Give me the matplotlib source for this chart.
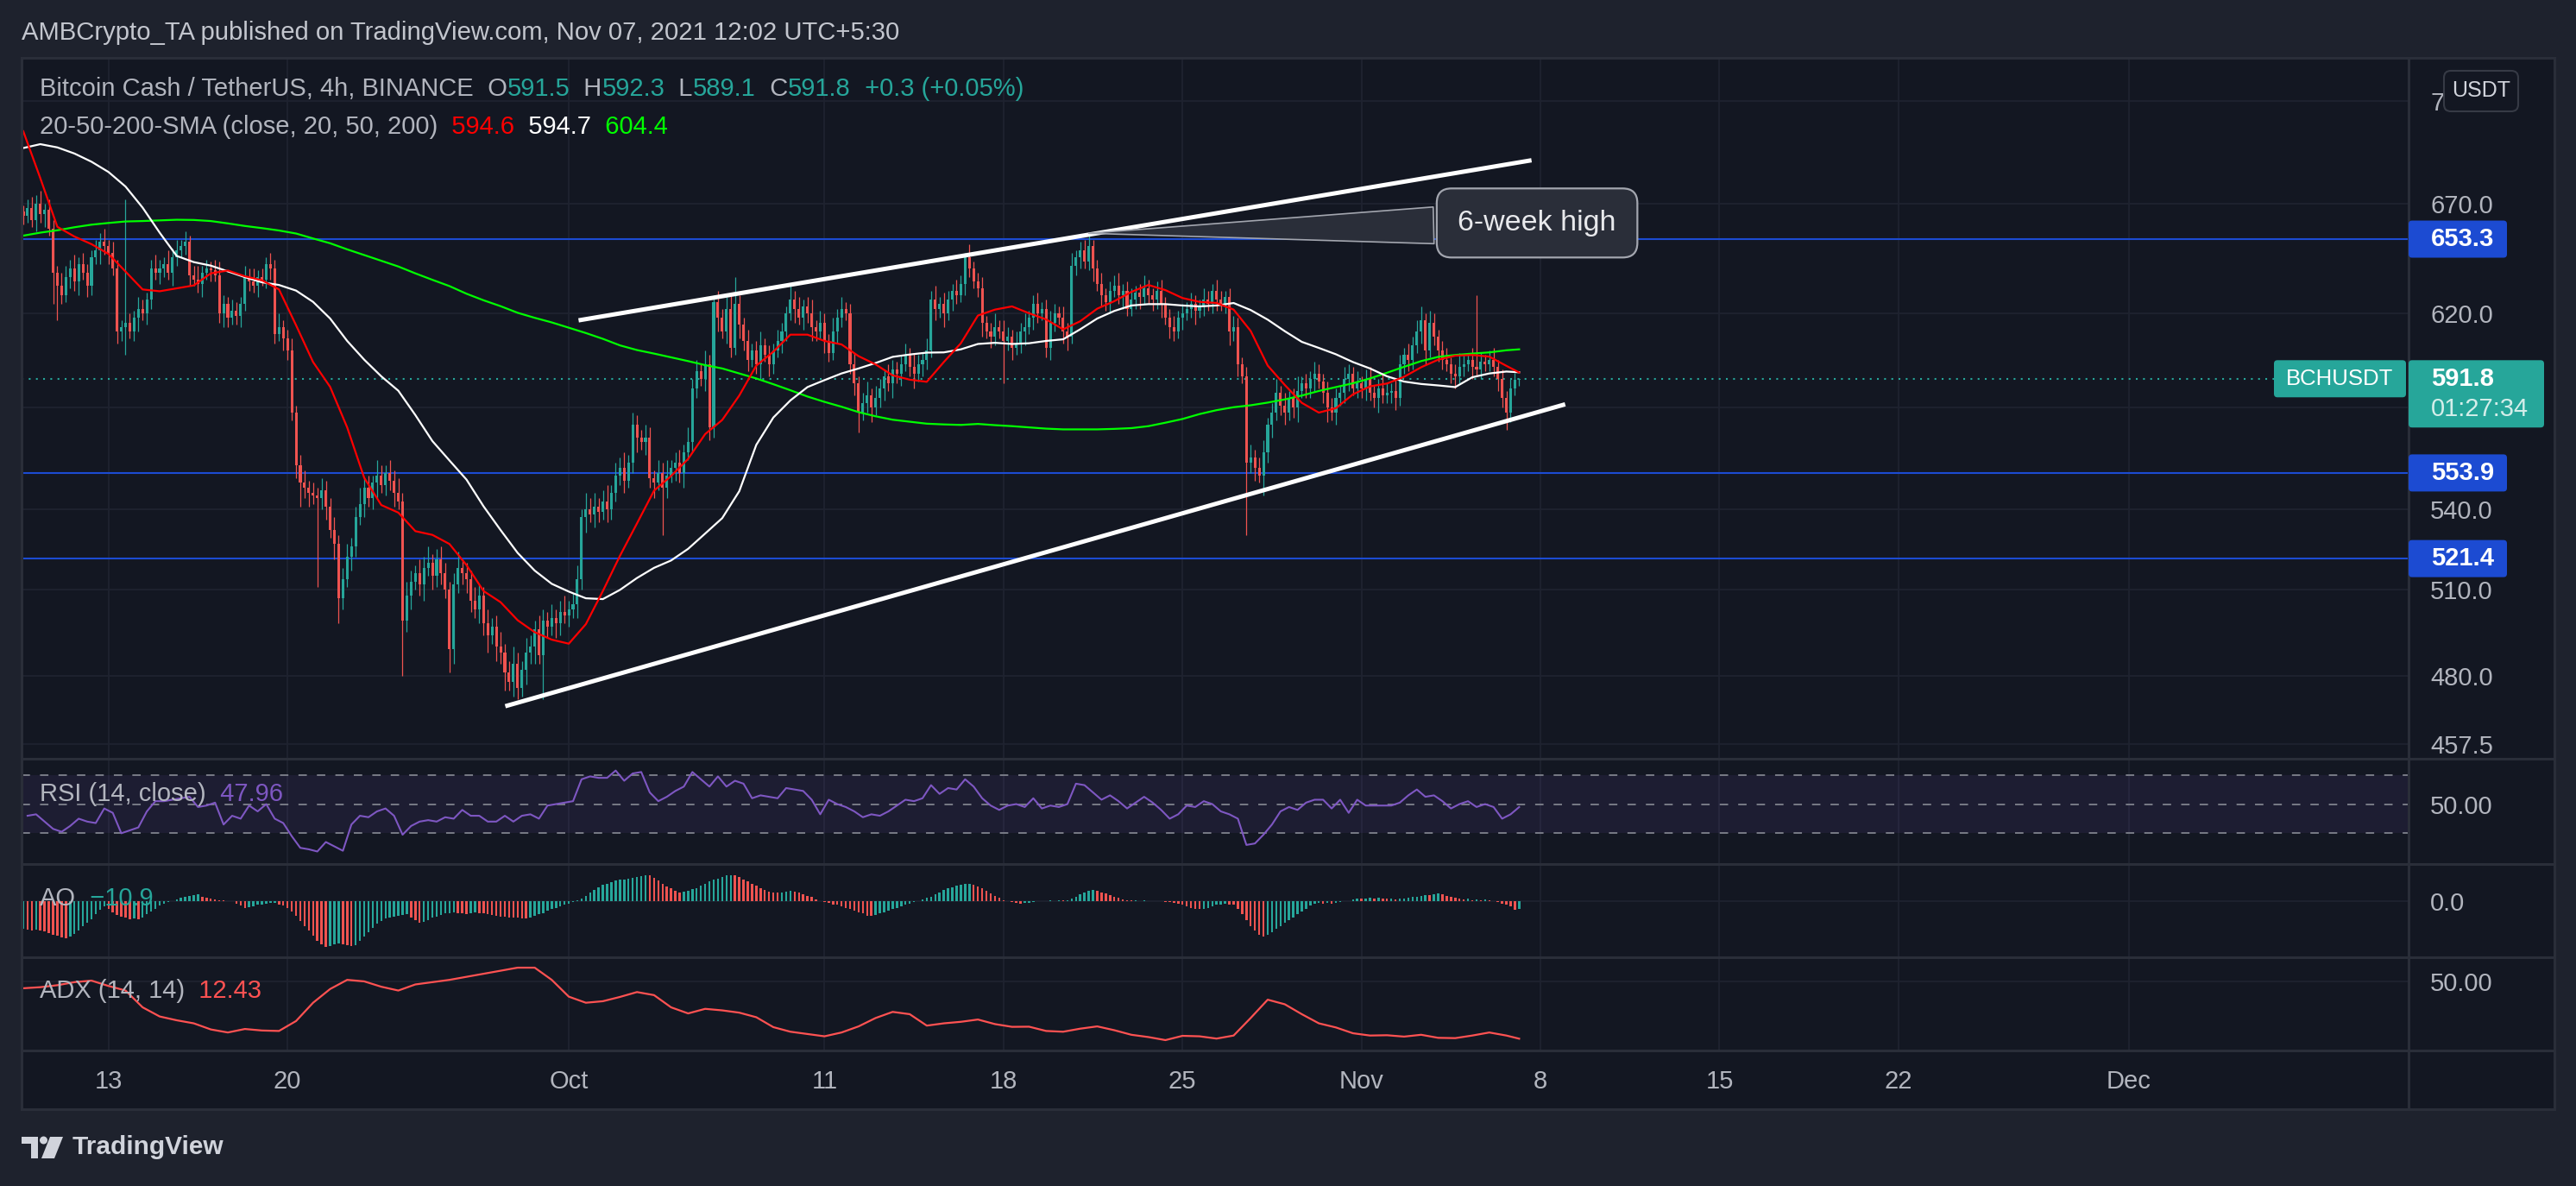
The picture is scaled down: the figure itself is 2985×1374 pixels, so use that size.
import numpy as np
import pandas as pd
import matplotlib
matplotlib.use("Agg")
import matplotlib.pyplot as plt
from matplotlib.patches import FancyBboxPatch, Rectangle, Circle, Polygon
from matplotlib.lines import Line2D
from matplotlib.transforms import IdentityTransform
from matplotlib.ticker import FixedLocator, FixedFormatter, NullLocator

plt.rcParams["font.family"] = ["Liberation Sans", "DejaVu Sans"]

# ---------------- data (BCH/USDT, 4h, Binance) ----------------
start = pd.Timestamp("2021-09-09 16:00")   # first candle shown
first_open = 666

# closes, one day (6 candles) per line
closes = [
    664, 668,
    662, 670, 665, 667, 658, 638,
    632, 628, 636, 640, 634, 642,
    638, 632, 645, 648, 652, 650,
    647, 640, 612, 614, 616, 612,
    618, 622, 620, 626, 640, 638,
    640, 642, 638, 645, 648, 650,
    652, 637, 635, 633, 638, 640,
    639, 637, 620, 624, 618, 621,
    619, 624, 636, 634, 632, 636,
    635, 642, 640, 611, 614, 609,
    604, 578, 557, 550, 548, 546,
    545, 544, 547, 541, 532, 527,
    507, 514, 522, 526, 537, 542,
    548, 544, 550, 553, 549, 554,
    551, 546, 543, 499, 508, 513,
    516, 512, 518, 520, 515, 521,
    516, 510, 489, 512, 518, 516,
    514, 506, 503, 508, 498, 494,
    497, 490, 488, 481, 478, 484,
    476, 482, 488, 490, 496, 487,
    499, 497, 500, 498, 502, 501,
    503, 505, 514, 537, 540, 538,
    541, 539, 543, 540, 546, 553,
    556, 551, 558, 573, 568, 566,
    568, 552, 550, 554, 548, 553,
    556, 558, 554, 562, 566, 588,
    595, 592, 598, 572, 625, 618,
    612, 622, 605, 624, 615, 608,
    600, 604, 598, 606, 602, 598,
    604, 608, 612, 620, 626, 622,
    618, 623, 620, 614, 612, 616,
    608, 603, 612, 618, 622, 620,
    598, 590, 578, 582, 585, 580,
    584, 588, 593, 590, 596, 594,
    598, 602, 597, 594, 598, 600,
    604, 626, 622, 624, 620, 626,
    630, 628, 633, 645, 640, 634,
    631, 616, 612, 610, 614, 612,
    608, 610, 605, 607, 612, 614,
    618, 624, 620, 622, 605, 616,
    620, 618, 612, 610, 641, 645,
    648, 643, 650, 640, 633, 628,
    625, 630, 632, 628, 630, 622,
    626, 629, 627, 631, 628, 626,
    630, 624, 618, 614, 612, 618,
    620, 622, 624, 621, 623, 626,
    624, 630, 626, 624, 627, 612,
    614, 598, 593, 558, 560, 556,
    553, 562, 573, 578, 586, 581,
    578, 584, 580, 587, 590, 588,
    592, 594, 591, 586, 580, 578,
    584, 586, 592, 594, 588, 590,
    588, 592, 586, 584, 588, 585,
    586, 587, 584, 598, 602, 600,
    606, 612, 617, 604, 616, 610,
    604, 600, 598, 594, 593, 597,
    598, 600, 597, 596, 599, 598,
    600, 597, 592, 584, 578, 588,
    591.5, 591.8,
]

upper_wick = [
    3, 4,
    5, 4, 6, 3, 5, 4,
    3, 6, 5, 4, 6, 3,
    5, 4, 3, 5, 4, 6,
    3, 5, 4, 3, 56, 4,
    3, 5, 4, 3, 4, 6,
    4, 3, 6, 4, 5, 3,
    5, 3, 4, 6, 3, 4,
    3, 5, 6, 4, 3, 5,
    4, 3, 5, 4, 6, 3,
    4, 3, 5, 4, 6, 3,
    4, 5, 3, 4, 5, 3,
    4, 3, 5, 4, 3, 5,
    3, 4, 5, 3, 4, 6,
    4, 5, 3, 6, 4, 3,
    5, 4, 6, 3, 5, 4,
    3, 5, 4, 6, 3, 4,
    5, 4, 3, 4, 6, 3,
    4, 3, 5, 4, 3, 5,
    3, 4, 5, 3, 4, 6,
    4, 3, 5, 4, 3, 5,
    4, 3, 5, 3, 4, 6,
    3, 4, 5, 3, 6, 4,
    5, 3, 4, 6, 3, 5,
    4, 6, 3, 5, 4, 3,
    5, 4, 3, 5, 4, 6,
    3, 4, 5, 3, 6, 4,
    5, 3, 6, 4, 3, 5,
    4, 5, 6, 12, 4, 3,
    5, 3, 4, 6, 3, 4,
    3, 5, 4, 3, 6, 4,
    5, 3, 4, 6, 3, 5,
    4, 3, 6, 4, 5, 3,
    4, 5, 3, 4, 6, 3,
    5, 4, 3, 5, 4, 3,
    4, 5, 3, 6, 4, 3,
    5, 4, 6, 3, 5, 4,
    3, 5, 4, 2, 6, 3,
    4, 5, 3, 4, 6, 3,
    5, 4, 3, 5, 4, 6,
    3, 4, 5, 3, 4, 5,
    4, 3, 5, 4, 6, 3,
    4, 5, 6, 3, 4, 5,
    3, 4, 5, 6, 3, 4,
    5, 3, 4, 6, 4, 3,
    4, 5, 3, 4, 5, 3,
    4, 3, 5, 4, 3, 5,
    4, 3, 5, 4, 3, 4,
    5, 4, 3, 4, 5, 3,
    4, 5, 3, 4, 6, 3,
    5, 3, 4, 6, 3, 4,
    3, 5, 4, 3, 5, 4,
    4, 3, 5, 4, 3, 5,
    3, 4, 5, 3, 4, 6,
    4, 3, 5, 4, 3, 5,
    4, 5, 6, 3, 5, 4,
    3, 4, 5, 3, 4, 6,
    4, 3, 5, 31, 4, 3,
    4, 5, 3, 4, 3, 4,
    3, 0.5,
]

lower_wick = [
    4, 3,
    3, 5, 4, 6, 3, 14,
    15, 4, 3, 5, 4, 6,
    3, 5, 4, 3, 6, 4,
    5, 3, 5, 4, 12, 3,
    4, 6, 3, 5, 4, 3,
    5, 4, 3, 6, 4, 3,
    4, 5, 3, 4, 6, 3,
    5, 3, 4, 6, 4, 3,
    4, 5, 3, 4, 3, 5,
    3, 4, 5, 4, 3, 5,
    4, 3, 5, 9, 4, 5,
    3, 33, 4, 5, 3, 6,
    9, 4, 3, 5, 4, 3,
    5, 3, 4, 6, 3, 4,
    4, 5, 3, 19, 4, 5,
    3, 4, 6, 3, 5, 4,
    4, 3, 8, 5, 3, 4,
    5, 4, 3, 5, 4, 6,
    3, 5, 4, 6, 3, 5,
    4, 3, 5, 4, 6, 3,
    15, 4, 3, 5, 4, 3,
    4, 3, 5, 4, 6, 3,
    5, 4, 3, 5, 4, 3,
    4, 5, 3, 4, 6, 3,
    5, 4, 6, 3, 18, 4,
    3, 5, 4, 6, 3, 4,
    4, 3, 5, 5, 4, 6,
    3, 5, 4, 3, 6, 4,
    5, 3, 4, 6, 3, 5,
    4, 3, 5, 4, 3, 6,
    3, 5, 4, 6, 4, 3,
    5, 4, 3, 5, 4, 3,
    4, 5, 8, 3, 4, 6,
    3, 4, 5, 3, 6, 4,
    5, 3, 4, 6, 3, 5,
    4, 3, 5, 4, 6, 3,
    5, 4, 3, 5, 4, 3,
    4, 6, 3, 5, 4, 3,
    18, 4, 5, 3, 4, 6,
    3, 5, 4, 3, 4, 5,
    4, 3, 5, 6, 3, 4,
    5, 3, 4, 6, 3, 5,
    4, 5, 3, 4, 6, 3,
    3, 4, 5, 3, 4, 5,
    4, 6, 3, 5, 4, 3,
    5, 3, 4, 6, 3, 4,
    3, 4, 5, 3, 4, 6,
    4, 5, 3, 28, 4, 5,
    3, 8, 4, 5, 3, 4,
    5, 3, 4, 6, 3, 4,
    4, 5, 3, 4, 6, 3,
    5, 3, 4, 5, 3, 4,
    4, 5, 3, 4, 6, 3,
    3, 4, 5, 3, 4, 5,
    4, 3, 5, 6, 3, 4,
    5, 4, 3, 4, 5, 3,
    4, 3, 5, 3, 4, 3,
    3, 4, 5, 4, 7, 4,
    3, 2.4,
]

# moving averages sampled every 4th candle (plus the last one)
sample_idx = list(range(0, 349, 4)) + [351]
sma20 = [705, 682, 659, 654.5, 651, 646.5, 638.5, 630.5, 629.7, 631, 632.3, 637.7,
         639, 636.4, 634.6, 630.5, 614.8, 599, 588.6, 572, 552, 541.5, 538.6, 531.6,
         530.2, 526.8, 519, 509.6, 505.6, 499.2, 495, 492.4, 491, 497.8, 509.6, 522.4,
         534.5, 547, 552.7, 559.4, 569.3, 575, 585, 597.5, 603.4, 610.7, 610.7, 608,
         606.5, 601.5, 598, 593.4, 591.6, 590.7, 599, 607, 619, 621.6, 623, 620,
         617.3, 613, 616.5, 622, 625.3, 629.4, 632.5, 630.2, 626.7, 625, 624.5, 621.6,
         612.3, 597.5, 589.4, 582, 578, 579.8, 585.5, 588.8, 590, 592.8, 596.8, 600,
         601.7, 602, 601.3, 597.4, 594.6]
sma50 = [696.7, 698.6, 697, 694, 690, 685, 678, 668, 656.3, 645.6, 642.8, 641.2,
         638.6, 636, 633.7, 632.5, 630, 625, 617.7, 608, 600, 593, 587, 577,
         566.5, 558.8, 551.3, 541, 532, 523.5, 517, 512.2, 509.4, 507, 506.7, 510,
         514.3, 518, 520.7, 525, 530.7, 536.5, 546.8, 565, 576, 583, 588.5, 591.4,
         594.2, 596.3, 598.6, 601.2, 602.2, 603, 603.1, 604.4, 606.7, 607.2, 606.7, 607,
         608, 608.7, 613, 617.7, 621, 623.4, 624, 624, 623.4, 623, 623.4, 624.5,
         621.4, 617.2, 612.2, 607.6, 605, 602.3, 599, 596.3, 593, 590.8, 589.8, 589.2,
         588.5, 592.6, 594.2, 595, 594.7]
sma200 = [654.9, 656.3, 657.4, 658.8, 660, 660.8, 661.5, 661.7, 662, 662.3, 662.2, 661.7,
          660.6, 659.4, 658.4, 657.3, 655.9, 653.6, 651.4, 648.6, 646, 643.4, 640.8, 637.7,
          634.8, 632, 628.6, 625.7, 623.1, 620.2, 618, 616, 613.7, 611.4, 608.9, 606.1,
          604.1, 602.6, 601, 599.4, 597.7, 596.3, 594.2, 592.1, 589.7, 587.2, 584.6, 582.4,
          580.4, 578.2, 576.5, 575.1, 574.3, 573.5, 573.2, 573, 573.4, 572.9, 572.5, 572,
          571.5, 571.2, 571.2, 571.2, 571.4, 571.7, 572.5, 573.9, 575.4, 577.4, 579, 580.2,
          581, 582.1, 583.4, 585, 586.9, 588.5, 590.1, 592.1, 594.5, 597, 599.4, 601.2,
          602, 602.6, 603.1, 604, 604.4]

# RSI(14) on every 2nd candle, from candle 1
rsi = [42, 43, 38, 33, 31, 35,  40, 38, 37, 47, 44, 30,
       32, 34, 45, 52, 52, 53,  54, 55, 48, 49, 51, 36,
       42, 40, 49, 45, 50, 40,  37, 28, 20, 19, 17.5, 24,
       21, 18, 36, 42, 41, 45,  47, 42, 29, 35, 38, 39,
       38, 41, 40, 46, 42, 42,  38, 38, 42, 38, 42, 43,
       40, 49, 50, 51, 52, 67,  69, 68, 68, 73, 66, 71,
       72, 58, 52, 55, 59, 62,  72, 67, 62, 69, 62, 66,
       64, 54, 56, 55, 54, 61,  60, 59, 53, 43, 53, 50,
       48, 45, 41, 43, 42, 45,  49, 53, 52, 54, 63, 57,
       61, 60, 67, 62, 54, 49,  46, 49, 50, 48, 54, 47,
       49, 48, 50, 64, 63, 58,  53, 56, 52, 47, 51, 55,
       51, 46, 40, 43, 49, 48,  52, 50, 45, 43, 40, 22,
       23, 29, 36, 45, 48, 46,  51, 53, 53, 47, 53, 44,
       53, 49, 49, 49, 49, 51,  56, 60, 55, 56, 52, 47,
       50, 52, 48, 50, 48, 40,  43, 47.96]

# Awesome Oscillator, one value per candle
ao = [
    -38, -39,
    -40, -39, -40, -42, -44, -46,
    -48, -50, -51, -49, -45, -40,
    -35, -30, -25, -18, -12, -7,
    -10, -15, -19, -21, -23, -25,
    -24, -25, -22, -18, -14, -10,
    -6, -3, -1, 1, 3, 5,
    6, 8, 9, 9.5, 7, 5,
    4, 3, 2, 1.5, 1, 0.5,
    -3, -6, -9, -8, -7, -5,
    -4, -3, -2.5, -2, -4, -6,
    -9, -14, -20, -27, -34, -41,
    -48, -55, -60, -64, -62, -60,
    -59, -60, -61, -62, -61, -55,
    -49, -43, -37, -31, -27, -24,
    -22, -21, -20, -19, -18, -22,
    -26, -30, -28, -26, -23, -21,
    -19, -17, -16, -15, -16, -17,
    -18, -16, -15, -16, -17, -18,
    -19, -20, -21, -21.5, -22, -22.5,
    -23, -23.5, -24, -22, -20, -18,
    -16, -13, -11, -9, -7, -5,
    -3, -1, 2, 4, 8, 12,
    16, 20, 23, 25, 27, 29,
    30, 31, 32, 33, 34, 35,
    37, 36, 33, 29, 25, 21,
    18, 15, 13, 14, 15, 17,
    19, 22, 25, 28, 30, 32,
    34, 36, 37, 36, 34, 31,
    28, 25, 22, 19, 16, 14,
    13, 12, 13, 14, 15, 14,
    12, 10, 8, 6, 3, 1,
    -1, -2, -4, -5, -7, -9,
    -11, -13, -15, -17, -20, -20.5,
    -19, -17, -15, -13, -11, -9,
    -7, -5, -3, -1, 1, 3,
    5, 7, 10, 13, 16, 18,
    20, 22, 23, 24, 24.5, 23,
    21, 18, 15, 11, 8, 5,
    2, 0, -1, -2, -3, -2,
    -1.5, -1, 0, 1, 0.5, 1.5,
    1, 2, 1.5, 2, 4, 7,
    10, 13, 15, 16, 15, 13,
    11, 9, 7, 5, 3, 2,
    1.5, 2, 1, 1.5, 1, 0.5,
    1, 0, -0.5, -1, -2, -3,
    -5, -7, -9, -10, -11, -10,
    -9, -7, -5, -4, -3, -4,
    -5, -11, -18, -26, -34, -41,
    -47, -49, -46, -43, -38, -34,
    -30, -26, -22, -18, -14, -10,
    -6, -3, -2, -3, -2, -3,
    -2, -1, 0.5, 1, 3, 4,
    3.5, 4.5, 5, 4.5, 5, 4,
    3.5, 4, 3, 3.5, 4, 5,
    6, 7, 8, 9, 8.5, 10.5,
    11, 10, 8, 6, 5, 4,
    3, 3.5, 2, 2.5, 2, 2.5,
    1.5, 1, -1, -3, -5, -7,
    -11.5, -10.9,
]

# ADX(14, 14), same sampling as the moving averages
adx = [45.5, 46.2, 47.5, 49.5, 50.5, 47, 44, 33, 27, 24.5, 22.5, 18.5,
       16.5, 18.8, 17.8, 17.5, 24, 36, 45, 51, 50, 46.5, 44, 48,
       49.5, 51, 53, 55, 57, 59, 59, 51, 40, 36, 37, 39.8,
       43, 41, 33, 29, 32, 31, 29.5, 26.5, 20, 17, 15.5, 14,
       16.5, 20.5, 26, 30, 28.5, 21, 22.5, 23.5, 25, 22, 20.2, 20.3,
       17.5, 17, 19, 20.5, 18, 15, 13.5, 11.5, 14.3, 14, 12.5, 14.5,
       26, 38, 35, 28.5, 22.5, 19.8, 16, 14.5, 14.7, 13.8, 15, 13,
       12.8, 14.5, 16.5, 14.5, 12.43]

levels = [653.3, 553.9, 521.4]
channel_upper = [(130.3, 616.9), (353.9, 690.7)]
channel_lower = [(113.1, 469.8), (361.8, 581.4)]
six_week_high = (250, 656.0)
callout_at = (355.2, 660.8)

price_ticks = [457.5, 480, 510, 540, 580, 620, 670, 720]
price_labels = ["457.5", "480.0", "510.0", "540.0", "", "620.0", "670.0", "720.0"]  # 580 sits under the last-price tag
tick_dates = ["2021-09-13", "2021-09-20", "2021-10-01", "2021-10-11", "2021-10-18",
              "2021-10-25", "2021-11-01", "2021-11-08", "2021-11-15", "2021-11-22",
              "2021-12-01"]
tick_labels = ["13", "20", "Oct", "11", "18", "25", "Nov", "8", "15", "22", "Dec"]

# ---------------- style ----------------
W, H, DPI = 2985, 1374, 100
OUTER = "#1e222d"
PANEL = "#131722"
SEP = "#2a2e39"
GRID = "#1f2330"
TXT = "#b2b5be"
UP, DOWN = "#26a69a", "#ef5350"
BLUE = "#1c4bd2"
FS = 21
ID = IdentityTransform()

fig = plt.figure(figsize=(W / DPI, H / DPI), dpi=DPI, facecolor=OUTER)


def add_ax(top, bottom):
    ax = fig.add_axes([25 / W, 1 - bottom / H, (2791 - 25) / W, (bottom - top) / H])
    ax.set_facecolor(PANEL)
    for s in ax.spines.values():
        s.set_visible(False)
    return ax


def px_line(x0, y0, x1, y1, color=SEP, lw=2.0, z=5):
    fig.add_artist(Line2D([x0, x1], [H - y0, H - y1], transform=ID, color=color, lw=lw, zorder=z))


def px_box(x0, y0, x1, y1, fc, ec="none", lw=0, r=4, z=6):
    fig.add_artist(FancyBboxPatch((x0, H - y1), x1 - x0, y1 - y0,
                                  boxstyle=f"round,pad=0,rounding_size={r}",
                                  transform=ID, fc=fc, ec=ec, lw=lw, zorder=z))


def px_text(x, y, s, **kw):
    kw.setdefault("zorder", 7)
    kw.setdefault("va", "center")
    fig.text(x, H - y, s, transform=ID, **kw)


def legend_line(ax, x, y, parts, size=FS):
    t = ax.text(x, H - y, parts[0][0], color=parts[0][1], fontsize=size,
                va="center", ha="left", transform=ID, zorder=9)
    for s, c in parts[1:]:
        t = ax.annotate(s, xy=(1, 0), xycoords=t, va="bottom", ha="left",
                        color=c, fontsize=size, annotation_clip=False, zorder=9)


# chart block background
fig.add_artist(Rectangle((25, H - 1285), 2960 - 25, 1285 - 67, transform=ID,
                         fc=PANEL, ec="none", zorder=0))

axp = add_ax(67, 879)
axr = add_ax(879, 1001)
axa = add_ax(1001, 1108.5)
axd = add_ax(1108.5, 1217)

tick_idx = [(pd.Timestamp(d) - start) / pd.Timedelta(hours=4) for d in tick_dates]
for ax in (axp, axr, axa, axd):
    ax.set_xlim(-0.4, 559.7)
    ax.set_xticks(tick_idx)
    ax.set_xticklabels(tick_labels)
    ax.grid(axis="x", color=GRID, lw=1.3)
    ax.set_axisbelow(True)
    ax.tick_params(axis="x", length=0, labelbottom=False)
    ax.yaxis.tick_right()
    ax.tick_params(axis="y", length=0, pad=18, labelsize=FS, labelcolor=TXT)
axd.tick_params(axis="x", labelbottom=True, pad=16, labelsize=FS, labelcolor=TXT)

# ---------------- price panel ----------------
closes = np.array(closes, dtype=float)
n = len(closes)
idx = np.arange(n)
opens = np.r_[first_open, closes[:-1]]
highs = np.maximum(opens, closes) + np.array(upper_wick)
lows = np.minimum(opens, closes) - np.array(lower_wick)
ccol = np.where(closes >= opens, UP, DOWN)
body = closes - opens
body = np.where(np.abs(body) < 0.5, 0.5, body)

axp.set_yscale("log")
axp.set_ylim(452.7, 742.5)
axp.yaxis.set_major_locator(FixedLocator(price_ticks))
axp.yaxis.set_major_formatter(FixedFormatter(price_labels))
axp.yaxis.set_minor_locator(NullLocator())
axp.grid(axis="y", color=GRID, lw=1.3)

for v in levels:
    axp.axhline(v, color=BLUE, lw=1.5, zorder=1)
axp.axhline(closes[-1], color=UP, lw=1.5, ls=(0, (1, 3)), zorder=1)

axp.vlines(idx, lows, highs, colors=ccol, lw=0.9, zorder=2)
axp.bar(idx, body, bottom=opens, width=0.62, color=ccol, lw=0, zorder=2)

axp.plot(sample_idx, sma200, color="#00ff00", lw=1.6, zorder=3)
axp.plot(sample_idx, sma50, color="#ffffff", lw=1.6, zorder=3)
axp.plot(sample_idx, sma20, color="#ff0000", lw=1.6, zorder=3)

for seg in (channel_upper, channel_lower):
    xs, ys = zip(*seg)
    axp.plot(xs, ys, color="white", lw=3.6, solid_capstyle="butt", zorder=4)

axp.annotate("6-week high", xy=six_week_high, xytext=callout_at, textcoords="data",
             ha="center", va="center", color="#e8e9ec", fontsize=24.5,
             bbox=dict(boxstyle="round,pad=0.72,rounding_size=0.5", fc="#2a2e39",
                       ec="#a3a6af", lw=1.6),
             arrowprops=dict(arrowstyle="wedge,tail_width=1.25,shrink_factor=0.5",
                             fc="#2a2e39", ec="#a3a6af", lw=1.2, shrinkB=0),
             zorder=8, annotation_clip=False)

o, h, l, c = opens[-1], highs[-1], lows[-1], closes[-1]
chg = c - o
legend_line(axp, 46, 103, [
    ("Bitcoin Cash / TetherUS, 4h, BINANCE", TXT),
    ("  O", TXT), (f"{o:.1f}", UP), ("  H", TXT), (f"{h:.1f}", UP),
    ("  L", TXT), (f"{l:.1f}", UP), ("  C", TXT), (f"{c:.1f}", UP),
    (f"  {chg:+.1f} ({chg / o * 100:+.2f}%)", UP)])
legend_line(axp, 46, 147, [
    ("20-50-200-SMA (close, 20, 50, 200)", TXT),
    (f"  {sma20[-1]:.1f}", "#ff0000"), (f"  {sma50[-1]:.1f}", "#ffffff"),
    (f"  {sma200[-1]:.1f}", "#00ff00")])

# ---------------- RSI ----------------
rsi_idx = np.arange(1, 2 * len(rsi), 2)
axr.set_ylim(8.9, 81.1)
axr.axhspan(30, 70, color="#7e57c2", alpha=0.1, lw=0)
for v in (70, 50, 30):
    axr.axhline(v, color="#787b86", lw=1.4, ls=(0, (5, 6)))
axr.plot(rsi_idx, rsi, color="#7e57c2", lw=1.5)
axr.set_yticks([50])
axr.set_yticklabels(["50.00"])
legend_line(axr, 46, 920, [("RSI (14, close)", TXT), (f"  {rsi[-1]:.2f}", "#7e57c2")])

# ---------------- AO ----------------
ao = np.array(ao, dtype=float)
ao_col = np.where(np.r_[True, np.diff(ao) >= 0], UP, DOWN)
axa.set_ylim(-77.3, 52.2)
axa.bar(np.arange(len(ao)), ao, width=0.5, color=ao_col, lw=0)
axa.set_yticks([0])
axa.set_yticklabels(["0.0"])
axa.grid(axis="y", color=GRID, lw=1.3)
legend_line(axa, 46, 1041, [("AO", TXT), (f"  {ao[-1]:.1f}".replace("-", "\u2212"), ao_col[-1])])

# ---------------- ADX ----------------
axd.set_ylim(4.7, 66.1)
axd.plot(sample_idx, adx, color="#ff5252", lw=1.6)
axd.set_yticks([50])
axd.set_yticklabels(["50.00"])
axd.grid(axis="y", color=GRID, lw=1.3)
legend_line(axd, 46, 1148, [("ADX (14, 14)", TXT), (f"  {adx[-1]:.2f}", "#ff5252")])

# ---------------- frame, separators ----------------
for y in (879, 1001, 1108.5, 1217):
    px_line(25, y, 2960, y, lw=2.2)
px_line(25, 67, 2960, 67, lw=2.2)
px_line(25, 1285, 2960, 1285, lw=2.2)
px_line(25, 67, 25, 1285, lw=2.2)
px_line(2960, 67, 2960, 1285, lw=2.2)
px_line(2791, 67, 2791, 1285, lw=2.2)


def price_y(v):
    return H - axp.transData.transform((0, v))[1]


# price-scale labels
for v in levels:
    yc = price_y(v)
    px_box(2791, yc - 21.5, 2905, yc + 21.5, BLUE, r=4)
    px_text(2817, yc, f"{v:.1f}", color="white", fontsize=FS, fontweight="bold", ha="left")

yc = price_y(closes[-1])
px_box(2791, yc - 22, 2948, yc + 56, UP, r=4)
px_text(2817, yc, f"{closes[-1]:.1f}", color="white", fontsize=FS, fontweight="bold", ha="left")
px_text(2817, yc + 35, "01:27:34", color="#d4eeea", fontsize=FS, ha="left")
px_box(2635, yc - 22, 2788, yc + 21, UP, r=4)
px_text(2711, yc, "BCHUSDT", color="white", fontsize=18.5, ha="center")

px_box(2832, 82, 2918, 129, PANEL, ec="#363a45", lw=1.5, r=8)
px_text(2875, 105.5, "USDT", color="#d1d4dc", fontsize=18, ha="center")

# header
px_text(25, 38, "AMBCrypto_TA published on TradingView.com, Nov 07, 2021 12:02 UTC+5:30",
        color="#c3c6ce", fontsize=21.1, ha="left")

# TradingView logo
LOGO = "#d1d4dc"
px_box(25, 1317, 44, 1325, LOGO, r=0)
px_box(36, 1317, 44, 1342, LOGO, r=0)
fig.add_artist(Circle((50.5, H - 1321), 4.5, transform=ID, fc=LOGO, ec="none", zorder=6))
fig.add_artist(Polygon([(58, H - 1317), (73, H - 1317), (63, H - 1342), (48, H - 1342)],
                       closed=True, transform=ID, fc=LOGO, ec="none", zorder=6))
px_text(84, 1329, "TradingView", color=LOGO, fontsize=21.5, fontweight="bold", ha="left")

fig.savefig("out.png", dpi=DPI, facecolor=OUTER)
